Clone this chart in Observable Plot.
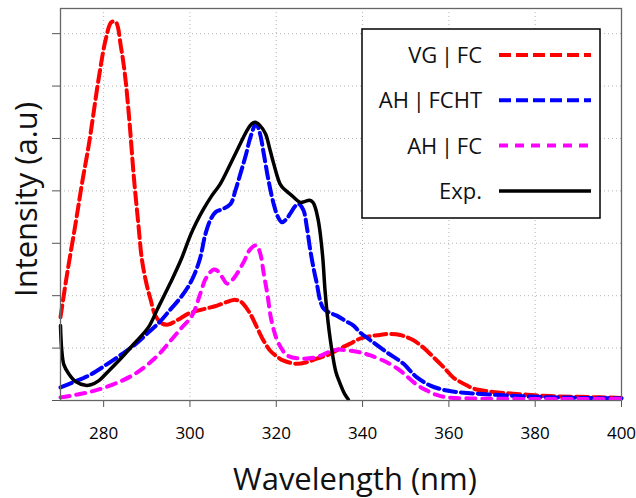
<!DOCTYPE html>
<html>
<head>
<meta charset="utf-8">
<script src="https://cdn.jsdelivr.net/npm/d3@7"></script>
<script src="https://cdn.jsdelivr.net/npm/@observablehq/plot@0.6"></script>
<style>
  html, body { margin: 0; padding: 0; background: #fff; }
  #chart { width: 636px; height: 498px; }
</style>
</head>
<body>
<div id="chart"></div>
<script>
// ---- Data ----
const vgfcX = [270, 271.5, 273.5, 275, 276.6, 278.9, 280.5, 281.8, 282.8, 284, 285, 286, 287, 288, 288.9, 290, 290.8, 292, 293.5, 295, 297, 299.7, 302, 304, 306.3, 308.5, 310.1, 311.5, 312.4, 314, 315.5, 317, 318.6, 320, 321.7, 324.8, 327, 329.4, 332, 334.5, 337, 339.4, 342, 344, 346, 348.7, 350.5, 351.8, 353.5, 354.9, 356.5, 358, 359.5, 361, 362.5, 364.1, 366, 368.8, 372, 374.9, 380, 385, 390, 395, 400];
const vgfcY = [1.59, 2.4, 3.38, 4.15, 4.9, 6.17, 6.9, 7.22, 7.22, 6.75, 6.17, 5.3, 4.26, 3.4, 2.67, 2.2, 1.95, 1.62, 1.47, 1.45, 1.53, 1.66, 1.72, 1.76, 1.81, 1.88, 1.92, 1.9, 1.84, 1.65, 1.4, 1.15, 0.95, 0.85, 0.76, 0.7, 0.73, 0.8, 0.87, 0.98, 1.08, 1.18, 1.23, 1.25, 1.27, 1.25, 1.2, 1.15, 1.05, 0.95, 0.82, 0.7, 0.57, 0.44, 0.36, 0.29, 0.22, 0.18, 0.15, 0.13, 0.1, 0.08, 0.07, 0.06, 0.05];

const ahfchtX = [270, 273, 276.6, 280, 284.3, 287, 290.4, 293, 295.3, 297.5, 299.5, 301, 302.4, 303.5, 304.7, 306, 307.5, 309.4, 310.5, 311.7, 313, 314, 315.3, 316.2, 317.1, 318.2, 319.4, 320.4, 321.3, 322.2, 323.2, 324.3, 325.2, 326.3, 327.1, 327.9, 328.7, 329.4, 330.2, 331, 332.5, 334, 336, 337.9, 339.4, 341.8, 345.6, 349.5, 351, 352.6, 355.6, 359.5, 364.9, 372.6, 380, 390, 400];
const ahfchtY = [0.25, 0.35, 0.48, 0.65, 0.89, 1.05, 1.3, 1.5, 1.72, 1.93, 2.16, 2.4, 2.73, 3.15, 3.44, 3.6, 3.65, 3.75, 4.0, 4.33, 4.7, 5.02, 5.28, 5.1, 4.71, 4.2, 3.75, 3.5, 3.4, 3.45, 3.56, 3.7, 3.75, 3.63, 3.3, 2.86, 2.5, 2.23, 1.9, 1.75, 1.67, 1.62, 1.52, 1.43, 1.3, 1.15, 0.92, 0.7, 0.57, 0.44, 0.29, 0.19, 0.14, 0.1, 0.07, 0.05, 0.04];

const ahfcX = [270, 273, 276.6, 280, 284.3, 287.5, 290.4, 293, 295.6, 298, 300.5, 302.4, 303.5, 304.7, 305.5, 306.3, 307.5, 308.6, 309.8, 310.9, 312.5, 314, 315.4, 316.3, 317.1, 318, 318.6, 319.4, 320.2, 321.3, 322.5, 325.6, 329.4, 332, 334, 337.1, 339.4, 341.8, 345.6, 348.7, 350.3, 351.8, 353.3, 354.9, 357, 359.5, 365, 380, 400];
const ahfcY = [0.06, 0.1, 0.16, 0.24, 0.38, 0.52, 0.7, 0.9, 1.15, 1.38, 1.62, 2.04, 2.3, 2.45, 2.5, 2.48, 2.35, 2.23, 2.3, 2.42, 2.65, 2.89, 2.96, 2.8, 2.42, 2.0, 1.65, 1.35, 1.15, 0.98, 0.86, 0.8, 0.83, 0.92, 0.97, 0.95, 0.92, 0.86, 0.73, 0.57, 0.46, 0.35, 0.26, 0.19, 0.11, 0.06, 0.04, 0.03, 0.03];

const expX = [270, 270.3, 270.8, 271.9, 273.5, 275.8, 277, 278.9, 281, 284.3, 287, 290.4, 292.5, 295.5, 298, 300.1, 301.5, 303.2, 305, 307, 309, 310.9, 313.2, 314.3, 315.1, 316.2, 317.5, 318.5, 319.4, 320.9, 322, 323.2, 325.6, 326.7, 327.7, 328.5, 329, 329.7, 330.2, 330.8, 331.3, 332, 332.9, 333.8, 334.8, 335.8, 336.7];
const expY = [1.43, 0.95, 0.68, 0.51, 0.36, 0.29, 0.3, 0.38, 0.55, 0.83, 1.08, 1.4, 1.75, 2.25, 2.7, 3.15, 3.4, 3.66, 3.9, 4.13, 4.45, 4.77, 5.15, 5.28, 5.31, 5.25, 5.09, 4.8, 4.52, 4.13, 4.02, 3.94, 3.78, 3.8, 3.82, 3.78, 3.69, 3.45, 3.18, 2.7, 2.1, 1.5, 0.95, 0.55, 0.32, 0.13, 0.02];

const seriesNames = ["VG | FC", "AH | FCHT", "AH | FC", "Exp."];
const seriesColors = ["#ff0000", "#0000ff", "#ff00ff", "#000000"];
const seriesDash = ["12,5", "12,5", "9,7", null];
const seriesX = [vgfcX, ahfchtX, ahfcX, expX];
const seriesY = [vgfcY, ahfchtY, ahfcY, expY];

const xTicks = [280, 300, 320, 340, 360, 380, 400];
const xGrid = [280, 300, 320, 340, 360, 380];
const yTicks = [0, 1, 2, 3, 4, 5, 6, 7];
const yGrid = [1, 2, 3, 4, 5, 6, 7];

const xLabel = "Wavelength (nm)";
const yLabel = "Intensity (a.u)";

// ---- Build rows ----
const tables = seriesNames.map((name, i) =>
  seriesX[i].map((x, j) => ({series: name, x, y: seriesY[i][j]}))
);

const lineMarks = tables.map((rows, i) =>
  Plot.line(rows, {
    x: "x", y: "y",
    stroke: seriesColors[i],
    strokeWidth: i === 3 ? 3.5 : 4,
    strokeDasharray: seriesDash[i] || undefined,
    curve: "catmull-rom"
  })
);

const chart = Plot.plot({
  width: 636,
  height: 498,
  marginLeft: 60,
  marginRight: 15,
  marginTop: 8,
  marginBottom: 98,
  style: {fontFamily: "'Open Sans', sans-serif", background: "#fff", color: "#000"},
  x: {domain: [270, 400]},
  y: {domain: [0, 7.48]},
  marks: [
    Plot.gridX(xGrid, {stroke: "#b5b5b5", strokeOpacity: 1, strokeDasharray: "1,3"}),
    Plot.gridY(yGrid, {stroke: "#b5b5b5", strokeOpacity: 1, strokeDasharray: "1,3"}),
    Plot.axisX({ticks: xTicks, tickSize: 7, tickPadding: 19, fontSize: 17, label: null, stroke: "#555", tickFormat: d => String(d)}),
    Plot.axisY({ticks: yTicks, tickSize: 8, tickFormat: () => "", label: null, stroke: "#555"}),
    ...lineMarks,
    Plot.frame({stroke: "#666", strokeWidth: 1.3}),
    Plot.text([xLabel], {frameAnchor: "bottom", textAnchor: "middle", lineAnchor: "bottom", dy: 89, dx: 14, fontSize: 31, fill: "#111"}),
    Plot.text([yLabel], {frameAnchor: "left", textAnchor: "middle", lineAnchor: "bottom", rotate: -90, dx: -24, dy: -5, fontSize: 31, fill: "#111"})
  ]
});

document.getElementById("chart").appendChild(chart);

// ---- Legend inside the plot (built from the series arrays) ----
const svg = d3.select(chart);
const lg = svg.append("g").attr("class", "legend");
lg.append("rect")
  .attr("x", 362).attr("y", 29).attr("width", 238).attr("height", 189)
  .attr("fill", "#fff").attr("stroke", "#000").attr("stroke-width", 1.5);
seriesNames.forEach((name, i) => {
  const cy = 55 + i * 45.3;
  lg.append("text")
    .attr("x", 482).attr("y", cy).attr("dy", "0.36em")
    .attr("text-anchor", "end")
    .attr("font-family", "'Open Sans', sans-serif")
    .attr("font-size", 22).attr("fill", "#111")
    .attr("word-spacing", -2)
    .text(name);
  lg.append("line")
    .attr("x1", 499).attr("x2", 591).attr("y1", cy).attr("y2", cy)
    .attr("stroke", seriesColors[i])
    .attr("stroke-width", i === 3 ? 3.5 : 4)
    .attr("stroke-dasharray", seriesDash[i] || null);
});
</script>
</body>
</html>
